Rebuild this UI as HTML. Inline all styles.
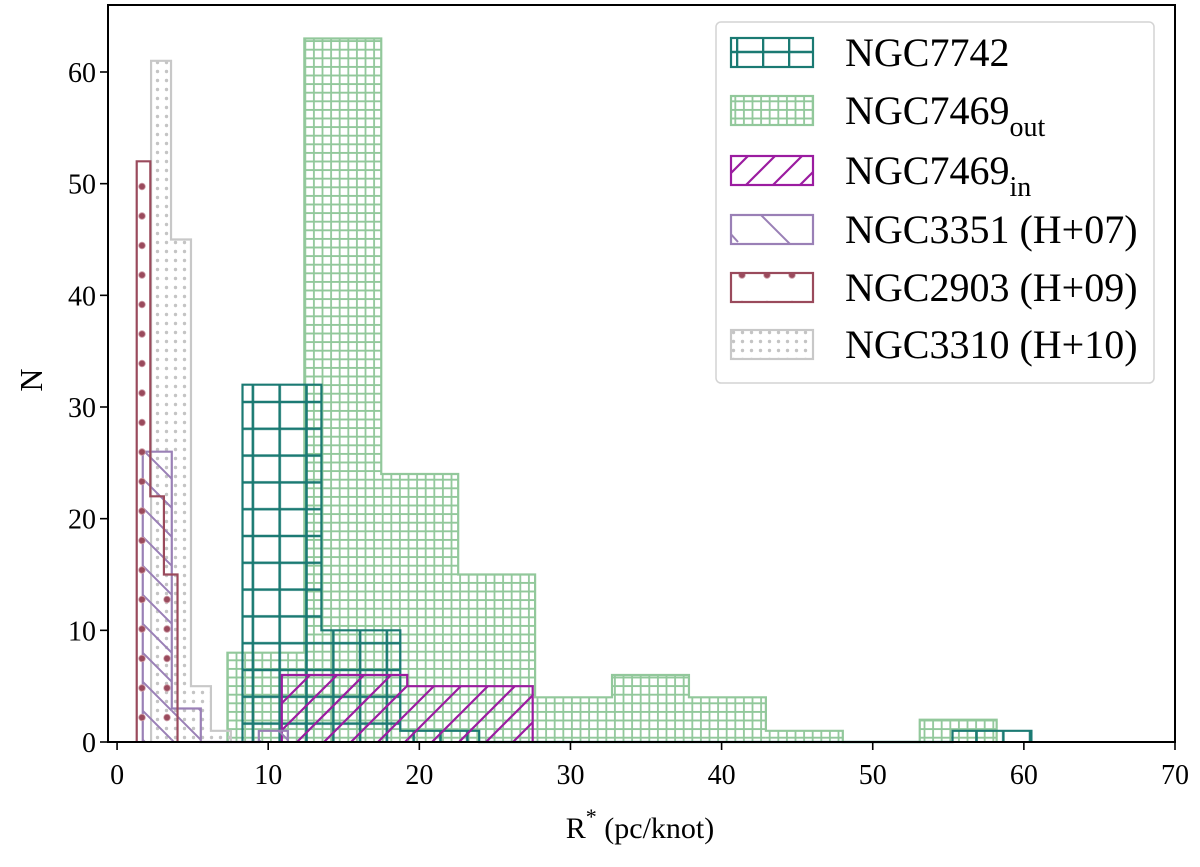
<!DOCTYPE html>
<html><head><meta charset="utf-8"><style>
body{margin:0;background:#fff}
svg text{font-family:"Liberation Serif",serif;fill:#000}
</style></head><body>
<svg id="chart" width="1200" height="862" viewBox="0 0 1200 862" xmlns="http://www.w3.org/2000/svg">
<defs>
<pattern id="p7742" patternUnits="userSpaceOnUse" width="26.8" height="26.8" x="239.5" y="737"><path d="M0 13.4H26.8M13.4 0V26.8" stroke="#1b7a73" stroke-width="2.6" fill="none"/></pattern>
<pattern id="pout" patternUnits="userSpaceOnUse" width="8.6" height="8.6" x="0" y="742"><path d="M0 4.3H8.6M4.3 0V8.6" stroke="#92c89b" stroke-width="1.8" fill="none"/></pattern>
<pattern id="pin" patternUnits="userSpaceOnUse" width="27" height="27" x="0" y="742"><path d="M-3 30L30 -3M-3 3L3 -3M24 30L30 24" stroke="#9b1ca0" stroke-width="2.2" fill="none"/></pattern>
<pattern id="p3351" patternUnits="userSpaceOnUse" width="29" height="29" x="0" y="742"><path d="M-3 -3L32 32M26 -3L32 3M-3 26L3 32" stroke="#9a80b6" stroke-width="2" fill="none"/></pattern>
<pattern id="p2903" patternUnits="userSpaceOnUse" width="25" height="29.5" x="122" y="742"><circle cx="20" cy="5" r="3.3" fill="#9a4a5c" stroke="#cc9aa5" stroke-width="0.8"/></pattern>
<pattern id="p3310" patternUnits="userSpaceOnUse" width="9" height="9" x="0" y="742"><circle cx="4.5" cy="4.5" r="1.7" fill="#c4c4c4"/></pattern>
<pattern id="l7742" patternUnits="userSpaceOnUse" width="26" height="100" x="736" y="0"><path d="M0 52H26M1 0V100" stroke="#1b7a73" stroke-width="2.6" fill="none"/></pattern>
<pattern id="l3351" patternUnits="userSpaceOnUse" width="82" height="200" x="731" y="215"><path d="M30 0L83 53M-20 -3L7 27" stroke="#9a80b6" stroke-width="2" fill="none"/></pattern>
</defs>
<g id="bars"></g>
<g id="axes"></g>
<g id="legend"></g>
</svg>
<script>
const seriesNames = ["NGC7742","NGC7469out","NGC7469in","NGC3351 (H+07)","NGC2903 (H+09)","NGC3310 (H+10)"];
const start7742 = 8.3, width7742 = 5.22;
const counts7742 = [32,10,1,0,0,0,0,0,0,1];
const startOut = 7.3, widthOut = 5.09;
const countsOut = [8,63,24,15,4,6,4,1,0,2];
const startIn = 10.9, widthIn = 8.3;
const countsIn = [6,5];
const start3351 = 1.7, width3351 = 1.92;
const counts3351 = [26,3,0,0,1];
const start2903 = 1.3, width2903 = 0.9;
const counts2903 = [52,22,15];
const start3310 = 2.25, width3310 = 1.32;
const counts3310 = [61,45,5,1];
const xTicks = [0,10,20,30,40,50,60,70];
const yTicks = [0,10,20,30,40,50,60];

const NS="http://www.w3.org/2000/svg";
const X0=108,X1=1175,Y0=742,Y1=5,XMIN=-0.6,XMAX=70,YMAX=66;
const sx=v=>X0+(v-XMIN)/(XMAX-XMIN)*(X1-X0);
const sy=v=>Y0-v/YMAX*(Y0-Y1);
function mk(tag,attrs,parent){const e=document.createElementNS(NS,tag);for(const k in attrs)e.setAttribute(k,attrs[k]);parent.appendChild(e);return e;}
const bars=document.getElementById('bars');
const styles=[
 {fill:"url(#p7742)",lfill:"url(#l7742)",stroke:"#1b7a73",name:"ngc7742"},
 {fill:"url(#pout)",lfill:"url(#pout)",stroke:"#92c89b",name:"ngc7469-out"},
 {fill:"url(#pin)",lfill:"url(#pin)",stroke:"#9b1ca0",name:"ngc7469-in"},
 {fill:"url(#p3351)",lfill:"url(#l3351)",stroke:"#9a80b6",name:"ngc3351"},
 {fill:"url(#p2903)",lfill:"url(#p2903)",stroke:"#9a4a5c",name:"ngc2903"},
 {fill:"url(#p3310)",lfill:"url(#p3310)",stroke:"#c8c8c8",name:"ngc3310"}];
const data=[[start7742,width7742,counts7742],[startOut,widthOut,countsOut],[startIn,widthIn,countsIn],[start3351,width3351,counts3351],[start2903,width2903,counts2903],[start3310,width3310,counts3310]];
const order=[1,5,0,2,3,4];
order.forEach(si=>{
 const [s,w,c]=data[si];const st=styles[si];
 const g=mk('g',{},bars);
 
 
 c.forEach((v,i)=>{if(v<=0)return;
  const r=mk('rect',{x:sx(s+i*w),y:sy(v),width:sx(s+(i+1)*w)-sx(s+i*w),height:Y0-sy(v),fill:st.fill,stroke:'none'},g);
  
  
 });
 let d=`M${sx(s)} ${Y0}`;
 c.forEach((v,i)=>{d+=`L${sx(s+i*w)} ${sy(v)}L${sx(s+(i+1)*w)} ${sy(v)}`;});
 d+=`L${sx(s+c.length*w)} ${Y0}`;
 const p=mk('path',{d:d,fill:'none',stroke:st.stroke,'stroke-width':2.2},g);
 
 
});
const ax=document.getElementById('axes');
const frame=mk('rect',{x:X0,y:Y1,width:X1-X0,height:Y0-Y1,fill:'none',stroke:'#000','stroke-width':2},ax);


xTicks.forEach(t=>{const x=sx(t);mk('line',{x1:x,x2:x,y1:Y0,y2:Y0+8,stroke:'#000','stroke-width':1.6},ax);
 const tx=mk('text',{x:x,y:784,'font-size':28,'text-anchor':'middle'},ax);tx.textContent=t;
 
 });
yTicks.forEach(t=>{const y=sy(t);mk('line',{x1:X0-8,x2:X0,y1:y,y2:y,stroke:'#000','stroke-width':1.6},ax);
 const tx=mk('text',{x:96,y:y+10,'font-size':28,'text-anchor':'end'},ax);tx.textContent=t;
 
 });
const xl=mk('text',{x:640,y:838,'font-size':30,'text-anchor':'middle'},ax);
xl.innerHTML='R<tspan dy="-14" font-size="22">*</tspan><tspan dy="14">  (pc/knot)</tspan>';


const yl=mk('text',{x:42,y:380,'font-size':32,'text-anchor':'middle',transform:'rotate(-90 42 380)'},ax);yl.textContent='N';


const lg=document.getElementById('legend');
mk('rect',{x:716,y:22,width:438,height:361,rx:5,fill:'#fff','fill-opacity':0.85,stroke:'#d4d4d4','stroke-width':1.5},lg);
const rowY=[52,110,170,229,287,344];
const labels=['NGC7742','NGC7469<tspan dy="12" font-size="28">out</tspan>','NGC7469<tspan dy="12" font-size="28">in</tspan>','NGC3351 (H+07)','NGC2903 (H+09)','NGC3310 (H+10)'];
seriesNames.forEach((n,i)=>{
 const e=mk('g',{},lg);
 
 
 const y=rowY[i];
 mk('rect',{x:731,y:y-14,width:82,height:29,fill:styles[i].lfill,stroke:styles[i].stroke,'stroke-width':2.2},e);
 const t=mk('text',{x:845,y:y+14,'font-size':40},e);t.innerHTML=labels[i];
});
</script>
</body></html>
